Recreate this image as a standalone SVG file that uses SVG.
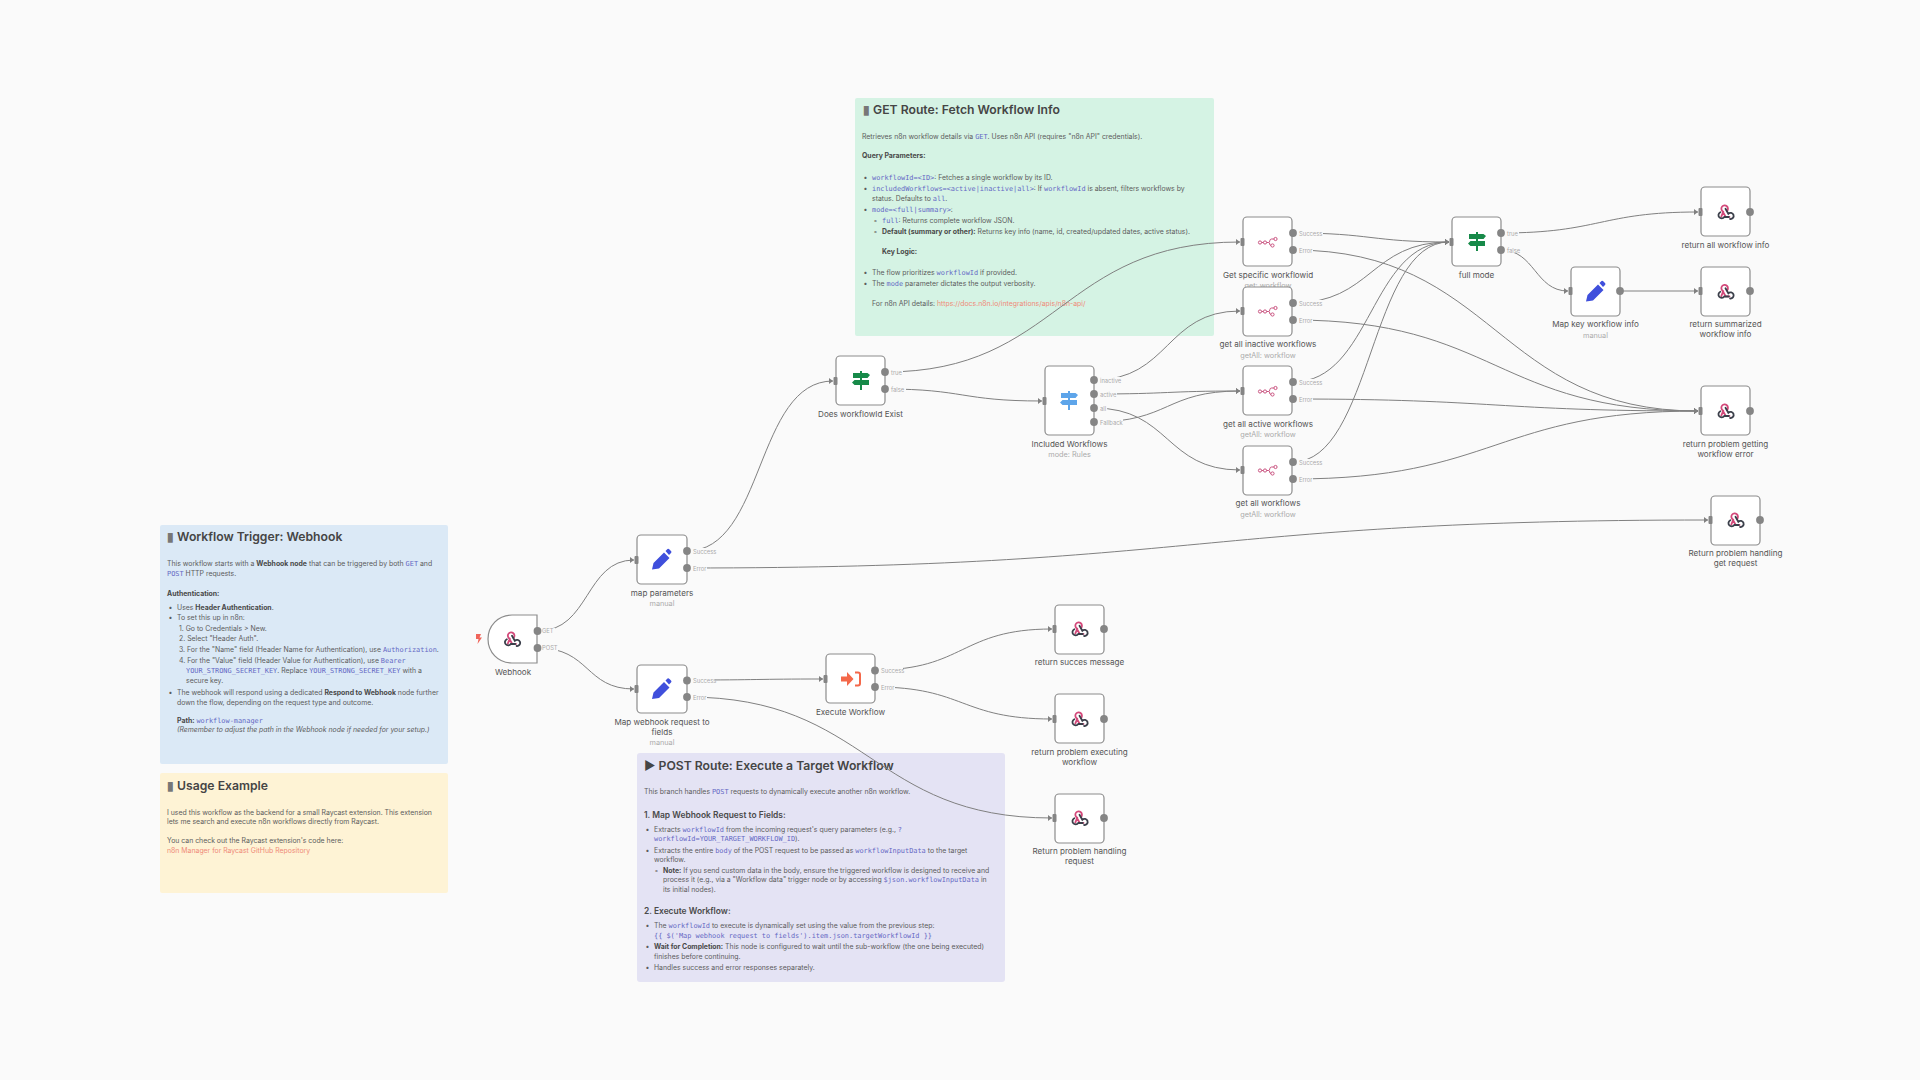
<svg xmlns="http://www.w3.org/2000/svg" width="1920" height="1080" viewBox="0 0 1920 1080">
<style>
text{font-family:"Inter","Liberation Sans",sans-serif}
.st{fill:#5c5c5c;font-size:6.9px}
.st tspan.b,.b{font-weight:700;fill:#484848}
.c{font-family:"DejaVu Sans Mono","Liberation Mono",monospace;fill:#6468c4;font-size:6.9px}
.a{fill:#ef8a78}
.i{font-style:italic}
.h1{font-size:12.2px;font-weight:600;fill:#454545}
.bx{fill:#777}
.h3{font-size:8.45px;font-weight:600;fill:#4a4a4a}
.n{fill:#fff;stroke:#8c8c8c;stroke-width:1.2}
.lb{font-size:8.1px;font-weight:400;fill:#555;text-anchor:middle}
.sub{font-size:7.3px;fill:#aaa;text-anchor:middle}
.pl{font-size:5.8px;fill:#aaa}
.pb{fill:#fafafa}
.dot{fill:#858585}
.bar{fill:#858585}
.w{fill:none;stroke:#808080;stroke-width:1;marker-end:url(#ah)}
</style>
<defs>
<marker id="ah" markerUnits="userSpaceOnUse" markerWidth="5" markerHeight="7" refX="4" refY="3.500" orient="auto"><path d="M0,.5L4,3.500L0,6.500z" fill="#808080"/></marker>
<symbol id="hook" viewBox="-8 -9 18 18" overflow="visible"><g fill="none" stroke-width="1.8" stroke-linecap="round">
<path d="M-1.2,-.4L-3.2,4.6M2.6,-1.1A3.3,3.3 0 1 0 -2,-.8L1.2,4.9H5" stroke="#d3497a"/>
<path d="M-4.2,.3A3.2,3.2 0 1 0 -.2,5H4.2M1,-3.2L3.8,1.8A3.1,3.1 0 1 1 5.6,7" stroke="#3b3f4a"/></g></symbol>
<symbol id="api" viewBox="-10 -6 20 12" overflow="visible"><g fill="none" stroke="#c9527f" stroke-width="1"><circle cx="-8" cy=".5" r="1.6"/><circle cx="-3" cy=".5" r="1.6"/><circle cx="7.5" cy="-3" r="1.6"/><circle cx="4.5" cy="3.5" r="1.6"/><path d="M-6.4,.5H-4.6M-1.4,.5H.5C2.5,.5 1,-3 3.5,-3H5.9M.5,.5C2.5,.5 1,3.5 2.9,3.5"/></g></symbol>
<symbol id="sign" viewBox="-10 -10 20 20" overflow="visible"><path d="M-8,-8H6.5L9,-6L6.5,-3H-8zM-6.5,-1H8V4H-6.5L-9,1.5zM-1,-10H1V-8H-1zM-1,-3H1V-1H-1zM-1,4H1V9H-1z"/></symbol>
<symbol id="pen" viewBox="-9 -10 20 20" overflow="visible"><path d="M-9,10L-7.5,3.5L3,-7L8.5,-1.5L-2,9zM4.5,-8.5L6.5,-10.5Q7.5,-11 8.5,-10L10,-8.5Q11,-7.5 10,-6.5L8,-4.5z" fill="#3f4fdc"/></symbol>
</defs>
<rect width="1920" height="1080" fill="#fafafa"/>

<g id="sticky-webhook"><rect x="160" y="525" width="288" height="239" rx="2" fill="#dbe9f6"/>
<text x="167" y="541" class="h1"><tspan class="bx">▮</tspan> Workflow Trigger: Webhook</text>
<text class="st" x="167" y="566">This workflow starts with a <tspan class="b">Webhook node</tspan> that can be triggered by both <tspan class="c">GET</tspan> and</text>
<text class="st" x="167" y="575.5"><tspan class="c">POST</tspan> HTTP requests.</text>
<text class="st b" x="167" y="595.5">Authentication:</text>
<text class="st" x="168.500" y="609.5">•</text><text class="st" x="177" y="609.5">Uses <tspan class="b">Header Authentication</tspan>.</text>
<text class="st" x="168.500" y="620">•</text><text class="st" x="177" y="620">To set this up in n8n:</text>
<text class="st" x="179" y="630.5">1. Go to Credentials &gt; New.</text>
<text class="st" x="179" y="641">2. Select "Header Auth".</text>
<text class="st" x="179" y="651.5">3. For the "Name" field (Header Name for Authentication), use <tspan class="c">Authorization</tspan>.</text>
<text class="st" x="179" y="662.5">4. For the "Value" field (Header Value for Authentication), use <tspan class="c">Bearer</tspan></text>
<text class="st" x="186" y="672.5"><tspan class="c">YOUR_STRONG_SECRET_KEY</tspan>. Replace <tspan class="c">YOUR_STRONG_SECRET_KEY</tspan> with a</text>
<text class="st" x="186" y="682.5">secure key.</text>
<text class="st" x="168.500" y="694.5">•</text><text class="st" x="177" y="694.5">The webhook will respond using a dedicated <tspan class="b">Respond to Webhook</tspan> node further</text>
<text class="st" x="177" y="704.5">down the flow, depending on the request type and outcome.</text>
<text class="st" x="177" y="722.5"><tspan class="b">Path:</tspan> <tspan class="c">workflow-manager</tspan></text>
<text class="st i" x="177" y="732">(Remember to adjust the path in the Webhook node if needed for your setup.)</text>
</g>

<g id="sticky-usage"><rect x="160" y="773" width="288" height="120" rx="2" fill="#fef3d5"/>
<text x="167" y="790" class="h1"><tspan class="bx">▮</tspan> Usage Example</text>
<text class="st" x="167" y="814.5">I used this workflow as the backend for a small Raycast extension. This extension</text>
<text class="st" x="167" y="824">lets me search and execute n8n workflows directly from Raycast.</text>
<text class="st" x="167" y="842.5">You can check out the Raycast extension's code here:</text>
<text class="st a" x="167" y="852.5">n8n Manager for Raycast GitHub Repository</text>
</g>

<g id="sticky-post"><rect x="637" y="753" width="368" height="229" rx="3" fill="#e4e3f4"/>
<text x="644" y="770" class="h1">▶ POST Route: Execute a Target Workflow</text>
<g transform="translate(0,-.6)">
<text class="st" x="644" y="794.5">This branch handles <tspan class="c">POST</tspan> requests to dynamically execute another n8n workflow.</text>
<text class="h3" x="644" y="819">1. Map Webhook Request to Fields:</text>
<text class="st" x="645.500" y="832.5">•</text><text class="st" x="654" y="832.5">Extracts <tspan class="c">workflowId</tspan> from the incoming request's query parameters (e.g., <tspan class="c">?</tspan></text>
<text class="st" x="654" y="841.5"><tspan class="c">workflowId=YOUR_TARGET_WORKFLOW_ID</tspan>).</text>
<text class="st" x="645.500" y="853.5">•</text><text class="st" x="654" y="853.5">Extracts the entire <tspan class="c">body</tspan> of the POST request to be passed as <tspan class="c">workflowInputData</tspan> to the target</text>
<text class="st" x="654" y="862.5">workflow.</text>
<text class="st" x="654.500" y="873.5">◦</text><text class="st" x="663" y="873.5"><tspan class="b">Note:</tspan> If you send custom data in the body, ensure the triggered workflow is designed to receive and</text>
<text class="st" x="663" y="882.5">process it (e.g., via a "Workflow data" trigger node or by accessing <tspan class="c">$json.workflowInputData</tspan> in</text>
<text class="st" x="663" y="892.5">its initial nodes).</text>
<text class="h3" x="644" y="915">2. Execute Workflow:</text>
<text class="st" x="645.500" y="928.5">•</text><text class="st" x="654" y="928.5">The <tspan class="c">workflowId</tspan> to execute is dynamically set using the value from the previous step:</text>
<text class="st" x="654" y="938.5"><tspan class="c">{{ $('Map webhook request to fields').item.json.targetWorkflowId }}</tspan></text>
<text class="st" x="645.500" y="949.5">•</text><text class="st" x="654" y="949.5"><tspan class="b">Wait for Completion:</tspan> This node is configured to wait until the sub-workflow (the one being executed)</text>
<text class="st" x="654" y="959.5">finishes before continuing.</text>
<text class="st" x="645.500" y="970.5">•</text><text class="st" x="654" y="970.5">Handles success and error responses separately.</text>
</g></g>

<g id="sticky-get"><rect x="855" y="98" width="359" height="238" rx="2" fill="#d5f3e4"/>
<text x="863" y="114" class="h1"><tspan class="bx">▮</tspan> GET Route: Fetch Workflow Info</text>
<g transform="translate(0,-.7)">
<text class="st" x="862" y="139.5">Retrieves n8n workflow details via <tspan class="c">GET</tspan>. Uses n8n API (requires "n8n API" credentials).</text>
<text class="st b" x="862" y="158.5">Query Parameters:</text>
<text class="st" x="863.500" y="180.5">•</text><text class="st" x="872" y="180.5"><tspan class="c">workflowId=&lt;ID&gt;</tspan>: Fetches a single workflow by its ID.</text>
<text class="st" x="863.500" y="191.5">•</text><text class="st" x="872" y="191.5"><tspan class="c">includedWorkflows=&lt;active|inactive|all&gt;</tspan>: If <tspan class="c">workflowId</tspan> is absent, filters workflows by</text>
<text class="st" x="872" y="201.5">status. Defaults to <tspan class="c">all</tspan>.</text>
<text class="st" x="863.500" y="212.5">•</text><text class="st" x="872" y="212.5"><tspan class="c">mode=&lt;full|summary&gt;</tspan>:</text>
<text class="st" x="873.500" y="223.5">◦</text><text class="st" x="882" y="223.5"><tspan class="c">full</tspan>: Returns complete workflow JSON.</text>
<text class="st" x="873.500" y="234.5">◦</text><text class="st" x="882" y="234.5"><tspan class="b">Default (summary or other):</tspan> Returns key info (name, id, created/updated dates, active status).</text>
<text class="st b" x="882" y="254.5">Key Logic:</text>
<text class="st" x="863.500" y="275.5">•</text><text class="st" x="872" y="275.5">The flow prioritizes <tspan class="c">workflowId</tspan> if provided.</text>
<text class="st" x="863.500" y="286.5">•</text><text class="st" x="872" y="286.5">The <tspan class="c">mode</tspan> parameter dictates the output verbosity.</text>
<text class="st" x="872" y="306.5">For n8n API details: <tspan class="a">https://docs.n8n.io/integrations/apis/n8n-api/</tspan></text>
</g></g>

<g id="connectors">
<path class="w" d="M538,631C590,631 585,560 634,560"/>
<path class="w" d="M538,648C590,648 585,689 634,689"/>
<path class="w" d="M687,551C765,551 755,381 833,381"/>
<path class="w" d="M687,568C1200,568 1200,520 1708,520"/>
<path class="w" d="M687,680C760,680 755,679 823,679"/>
<path class="w" d="M687,697C870,697 870,818 1052,818"/>
<path class="w" d="M885,372C1060,372 1060,242 1240,242"/>
<path class="w" d="M885,389C965,389 960,401 1042,401"/>
<path class="w" d="M875,670C965,670 960,629 1052,629"/>
<path class="w" d="M875,687C965,687 960,719 1052,719"/>
<path class="w" d="M1094,380C1170,380 1165,311 1240,311"/>
<path class="w" d="M1094,394C1170,394 1165,391 1240,391"/>
<path class="w" d="M1094,408C1170,408 1165,470 1240,470"/>
<path class="w" d="M1094,422C1170,422 1165,391 1240,391"/>
<path class="w" d="M1293,233C1372,233 1370,242 1449,242"/>
<path class="w" d="M1293,303C1372,303 1370,242 1449,242"/>
<path class="w" d="M1293,382C1372,382 1370,242 1449,242"/>
<path class="w" d="M1293,462C1372,462 1370,242 1449,242"/>
<path class="w" d="M1293,250C1496,250 1496,411 1698,411"/>
<path class="w" d="M1293,320C1496,320 1496,411 1698,411"/>
<path class="w" d="M1293,399C1496,399 1496,411 1698,411"/>
<path class="w" d="M1293,479C1496,479 1496,411 1698,411"/>
<path class="w" d="M1501,233C1600,233 1600,212 1698,212"/>
<path class="w" d="M1501,250C1535,250 1535,291 1568,291"/>
<path class="w" d="M1620,291H1698"/>
<g>
<rect class="pb" x="541" y="628" width="14" height="6"/><text class="pl" x="542" y="633">GET</text>
<rect class="pb" x="541" y="645" width="17" height="6"/><text class="pl" x="542" y="650">POST</text>
<rect class="pb" x="690" y="548" width="25" height="6"/><text class="pl" x="693" y="553.5">Success</text>
<rect class="pb" x="690" y="565" width="17" height="6"/><text class="pl" x="693" y="570.5">Error</text>
<rect class="pb" x="690" y="677" width="25" height="6"/><text class="pl" x="693" y="682.5">Success</text>
<rect class="pb" x="690" y="694" width="17" height="6"/><text class="pl" x="693" y="699.5">Error</text>
<rect class="pb" x="888" y="369" width="15" height="6"/><text class="pl" x="891" y="374.5">true</text>
<rect class="pb" x="888" y="386" width="18" height="6"/><text class="pl" x="891" y="391.5">false</text>
<rect class="pb" x="878" y="667" width="25" height="6"/><text class="pl" x="881" y="672.5">Success</text>
<rect class="pb" x="878" y="684" width="17" height="6"/><text class="pl" x="881" y="689.5">Error</text>
<rect class="pb" x="1097" y="377" width="24" height="6"/><text class="pl" x="1100" y="382.5">inactive</text>
<rect class="pb" x="1097" y="391" width="20" height="6"/><text class="pl" x="1100" y="396.5">active</text>
<rect class="pb" x="1097" y="405" width="10" height="6"/><text class="pl" x="1100" y="410.5">all</text>
<rect class="pb" x="1097" y="419" width="26" height="6"/><text class="pl" x="1100" y="424.5">Fallback</text>
<rect class="pb" x="1296" y="230" width="27" height="6"/><text class="pl" x="1299" y="235.5">Success</text>
<rect class="pb" x="1296" y="247" width="17" height="6"/><text class="pl" x="1299" y="252.5">Error</text>
<rect class="pb" x="1296" y="300" width="27" height="6"/><text class="pl" x="1299" y="305.5">Success</text>
<rect class="pb" x="1296" y="317" width="17" height="6"/><text class="pl" x="1299" y="322.5">Error</text>
<rect class="pb" x="1296" y="379" width="27" height="6"/><text class="pl" x="1299" y="384.5">Success</text>
<rect class="pb" x="1296" y="396" width="17" height="6"/><text class="pl" x="1299" y="401.5">Error</text>
<rect class="pb" x="1296" y="459" width="27" height="6"/><text class="pl" x="1299" y="464.5">Success</text>
<rect class="pb" x="1296" y="476" width="17" height="6"/><text class="pl" x="1299" y="481.5">Error</text>
<rect class="pb" x="1504" y="230" width="15" height="6"/><text class="pl" x="1507" y="235.5">true</text>
<rect class="pb" x="1504" y="247" width="18" height="6"/><text class="pl" x="1507" y="252.5">false</text>
</g>
</g>

<g id="webhook"><path class="n" d="M512,615H537V663H512C498,663 488,652 488,639C488,626 498,615 512,615Z"/><use href="#hook" x="503" y="630" width="18" height="18"/><path d="M476,634H481L479.500,637.500H482L477.500,644L478.500,639H476Z" fill="#f0645a"/><circle class="dot" cx="537.500" cy="631" r="3.900"/><circle class="dot" cx="537.500" cy="648" r="3.900"/><text class="lb" x="513" y="675">Webhook</text></g>

<g id="map-parameters"><rect class="n" x="637" y="535" width="50" height="49" rx="4"/><rect class="bar" x="634.500" y="556" width="4" height="8" rx="1"/><use href="#pen" x="652" y="549.500" width="20" height="20"/><circle class="dot" cx="687" cy="551" r="3.900"/><circle class="dot" cx="687" cy="568" r="3.900"/><text class="lb" x="662" y="596">map parameters</text><text class="sub" x="662" y="606">manual</text></g>

<g id="map-webhook"><rect class="n" x="637" y="665" width="50" height="48" rx="4"/><rect class="bar" x="634.500" y="685" width="4" height="8" rx="1"/><use href="#pen" x="652" y="679" width="20" height="20"/><circle class="dot" cx="687" cy="680.500" r="3.900"/><circle class="dot" cx="687" cy="697" r="3.900"/><text class="lb" x="662" y="725">Map webhook request to</text><text class="lb" x="662" y="735">fields</text><text class="sub" x="662" y="745">manual</text></g>

<g id="does-exist"><rect class="n" x="836" y="356" width="49" height="49" rx="4"/><rect class="bar" x="833.500" y="377" width="4" height="8" rx="1"/><use href="#sign" x="851" y="371" width="20" height="20" fill="#178a49"/><circle class="dot" cx="885" cy="372" r="3.900"/><circle class="dot" cx="885" cy="389" r="3.900"/><text class="lb" x="860.500" y="417">Does workflowId Exist</text></g>

<g id="included"><rect class="n" x="1045" y="366" width="49" height="69" rx="4"/><rect class="bar" x="1042.500" y="397" width="4" height="8" rx="1"/><use href="#sign" x="1059" y="391" width="20" height="20" fill="#5ea5ea"/><circle class="dot" cx="1094" cy="380" r="3.900"/><circle class="dot" cx="1094" cy="394" r="3.900"/><circle class="dot" cx="1094" cy="408" r="3.900"/><circle class="dot" cx="1094" cy="422" r="3.900"/><text class="lb" x="1069.500" y="447">Included Workflows</text><text class="sub" x="1069.500" y="457">mode: Rules</text></g>

<g id="get-specific"><text class="sub" x="1268" y="288">get: workflow</text><rect class="n" x="1243" y="217" width="49" height="49" rx="4"/><rect class="bar" x="1240.500" y="238" width="4" height="8" rx="1"/><use href="#api" x="1258" y="236" width="20" height="12"/><circle class="dot" cx="1293" cy="233" r="3.900"/><circle class="dot" cx="1293" cy="250" r="3.900"/><text class="lb" x="1268" y="278">Get specific workflowid</text></g>

<g id="get-inactive"><rect class="n" x="1243" y="287" width="49" height="49" rx="4"/><rect class="bar" x="1240.500" y="307" width="4" height="8" rx="1"/><use href="#api" x="1258" y="305" width="20" height="12"/><circle class="dot" cx="1293" cy="303" r="3.900"/><circle class="dot" cx="1293" cy="320" r="3.900"/><text class="lb" x="1268" y="347">get all inactive workflows</text><text class="sub" x="1268" y="358">getAll: workflow</text></g>

<g id="get-active"><rect class="n" x="1243" y="366" width="49" height="49" rx="4"/><rect class="bar" x="1240.500" y="387" width="4" height="8" rx="1"/><use href="#api" x="1258" y="385" width="20" height="12"/><circle class="dot" cx="1293" cy="382" r="3.900"/><circle class="dot" cx="1293" cy="399" r="3.900"/><text class="lb" x="1268" y="427">get all active workflows</text><text class="sub" x="1268" y="437">getAll: workflow</text></g>

<g id="get-all"><rect class="n" x="1243" y="446" width="49" height="49" rx="4"/><rect class="bar" x="1240.500" y="466" width="4" height="8" rx="1"/><use href="#api" x="1258" y="464" width="20" height="12"/><circle class="dot" cx="1293" cy="462" r="3.900"/><circle class="dot" cx="1293" cy="479" r="3.900"/><text class="lb" x="1268" y="506">get all workflows</text><text class="sub" x="1268" y="517">getAll: workflow</text></g>

<g id="full-mode"><rect class="n" x="1452" y="217" width="49" height="49" rx="4"/><rect class="bar" x="1449.500" y="238" width="4" height="8" rx="1"/><use href="#sign" x="1467" y="232" width="20" height="20" fill="#178a49"/><circle class="dot" cx="1501" cy="233" r="3.900"/><circle class="dot" cx="1501" cy="250" r="3.900"/><text class="lb" x="1476.500" y="278">full mode</text></g>

<g id="return-all"><rect class="n" x="1701" y="187" width="49" height="49" rx="4"/><rect class="bar" x="1698.500" y="208" width="4" height="8" rx="1"/><use href="#hook" x="1716.500" y="203" width="18" height="18"/><circle class="dot" cx="1750" cy="212" r="3.900"/><text class="lb" x="1725.500" y="248">return all workflow info</text></g>

<g id="map-key"><rect class="n" x="1571" y="267" width="49" height="49" rx="4"/><rect class="bar" x="1568.500" y="287" width="4" height="8" rx="1"/><use href="#pen" x="1586" y="281.500" width="20" height="20"/><circle class="dot" cx="1620" cy="291" r="3.900"/><text class="lb" x="1595.500" y="327">Map key workflow info</text><text class="sub" x="1595.500" y="338">manual</text></g>

<g id="return-summarized"><rect class="n" x="1701" y="267" width="49" height="49" rx="4"/><rect class="bar" x="1698.500" y="287" width="4" height="8" rx="1"/><use href="#hook" x="1716.500" y="282.500" width="18" height="18"/><circle class="dot" cx="1750" cy="291" r="3.900"/><text class="lb" x="1725.500" y="327">return summarized</text><text class="lb" x="1725.500" y="337">workflow info</text></g>

<g id="return-problem-getting"><rect class="n" x="1701" y="386" width="49" height="49" rx="4"/><rect class="bar" x="1698.500" y="407" width="4" height="8" rx="1"/><use href="#hook" x="1716.500" y="402" width="18" height="18"/><circle class="dot" cx="1750" cy="411" r="3.900"/><text class="lb" x="1725.500" y="447">return problem getting</text><text class="lb" x="1725.500" y="457">workflow error</text></g>

<g id="return-problem-get"><rect class="n" x="1711" y="496" width="49" height="49" rx="4"/><rect class="bar" x="1708.500" y="516" width="4" height="8" rx="1"/><use href="#hook" x="1726.500" y="511" width="18" height="18"/><circle class="dot" cx="1760" cy="520" r="3.900"/><text class="lb" x="1735.500" y="556">Return problem handling</text><text class="lb" x="1735.500" y="566">get request</text></g>

<g id="execute"><rect class="n" x="826" y="654" width="49" height="49" rx="4"/><rect class="bar" x="823.500" y="675" width="4" height="8" rx="1"/><path d="M841,676.500H847V672L853.500,679L847,686V681.500H841z" fill="#f4684a"/><path d="M855,672.500H858Q860,672.500 860,674.500V683.500Q860,685.500 858,685.500H855" fill="none" stroke="#f4684a" stroke-width="2"/><circle class="dot" cx="875" cy="670.500" r="3.900"/><circle class="dot" cx="875" cy="687" r="3.900"/><text class="lb" x="850.500" y="715">Execute Workflow</text></g>

<g id="return-succes"><rect class="n" x="1055" y="605" width="49" height="49" rx="4"/><rect class="bar" x="1052.500" y="625" width="4" height="8" rx="1"/><use href="#hook" x="1070.500" y="620" width="18" height="18"/><circle class="dot" cx="1104" cy="629" r="3.900"/><text class="lb" x="1079.500" y="665">return succes message</text></g>

<g id="return-problem-executing"><rect class="n" x="1055" y="694" width="49" height="49" rx="4"/><rect class="bar" x="1052.500" y="715" width="4" height="8" rx="1"/><use href="#hook" x="1070.500" y="710" width="18" height="18"/><circle class="dot" cx="1104" cy="719" r="3.900"/><text class="lb" x="1079.500" y="755">return problem executing</text><text class="lb" x="1079.500" y="765">workflow</text></g>

<g id="return-problem-request"><rect class="n" x="1055" y="794" width="49" height="49" rx="4"/><rect class="bar" x="1052.500" y="814" width="4" height="8" rx="1"/><use href="#hook" x="1070.500" y="809" width="18" height="18"/><circle class="dot" cx="1104" cy="818" r="3.900"/><text class="lb" x="1079.500" y="854">Return problem handling</text><text class="lb" x="1079.500" y="864">request</text></g>
</svg>
